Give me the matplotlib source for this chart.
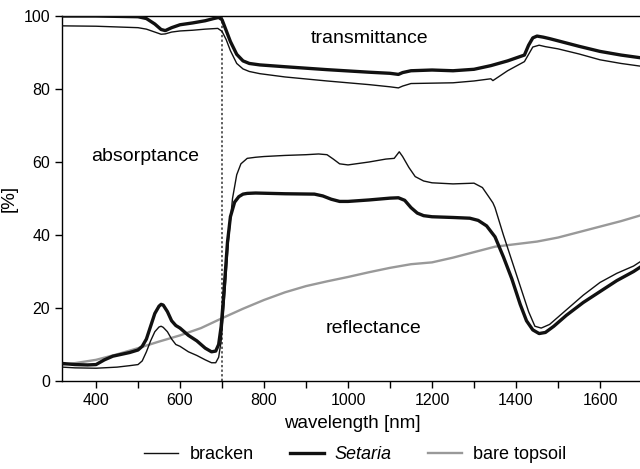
import numpy as np
import matplotlib
matplotlib.use("Agg")
import matplotlib.pyplot as plt

plt.rcParams['font.family'] = ['Liberation Sans', 'DejaVu Sans']

# --- data ---
# reflectance, Setaria (thick)
setaria_r_wl = [320, 350, 380, 400, 420, 440, 460, 480, 500, 510, 520, 530, 540, 550, 555, 560,
                570, 580, 590, 600, 620, 640, 660, 675, 685, 692, 698, 703, 708, 713, 720, 730,
                740, 750, 760, 780, 850, 920, 940, 960, 980, 1000, 1050, 1100, 1120, 1135, 1150,
                1165, 1180, 1200, 1250, 1290, 1310, 1330, 1350, 1370, 1390, 1410, 1425, 1440,
                1455, 1470, 1490, 1520, 1560, 1600, 1640, 1680, 1700]
setaria_r = [4.8, 4.5, 4.4, 4.5, 5.8, 6.8, 7.3, 7.8, 8.5, 9.5, 11.5, 15, 18.5, 20.5, 21, 20.8,
             19, 16.5, 15.2, 14.5, 12.5, 11, 9, 8, 8.2, 10, 15, 22, 30, 38, 45, 49,
             50.5, 51.2, 51.4, 51.5, 51.3, 51.2, 50.7, 49.8, 49.2, 49.2, 49.6, 50.1, 50.2, 49.5, 47.5,
             46, 45.3, 45, 44.8, 44.6, 44, 42.5, 39.5, 34, 28, 21, 16.5, 14,
             13, 13.3, 15, 18, 21.5, 24.5, 27.5, 30, 31.5]

# reflectance, bracken (thin)
bracken_r_wl = [320, 350, 400, 450, 480, 500, 510, 520, 530, 540, 550, 555, 560, 570, 580, 590,
                600, 620, 640, 660, 675, 685, 692, 698, 703, 708, 715, 725, 735, 745, 760, 780,
                800, 850, 900, 930, 950, 965, 980, 1000, 1050, 1090, 1110, 1122, 1130, 1145, 1160,
                1180, 1200, 1250, 1300, 1320, 1335, 1345, 1350, 1370, 1390, 1410, 1430, 1445,
                1460, 1480, 1500, 1530, 1560, 1600, 1640, 1680, 1700]
bracken_r = [3.8, 3.6, 3.5, 3.8, 4.2, 4.5, 5.5, 8, 11, 13.5, 14.8, 15, 14.7, 13.5, 11.5, 10,
             9.5, 8, 7, 5.8, 5, 5, 6.5, 11, 18, 26, 38, 50, 56.5, 59.5, 61, 61.3,
             61.5, 61.8, 62, 62.2, 62, 60.8, 59.5, 59.2, 60, 60.8, 61, 62.8, 61.5, 58.5, 56,
             54.8, 54.3, 54, 54.2, 53, 50.5, 48.8, 47.5, 40, 33, 26, 19, 15,
             14.5, 15.5, 17.5, 20.5, 23.5, 27, 29.5, 31.5, 33]

# transmittance, Setaria (thick)
setaria_t_wl = [320, 400, 500, 520, 540, 555, 565, 580, 600, 630, 660, 680, 692, 700, 710, 720,
                735, 750, 765, 790, 850, 950, 1050, 1100, 1120, 1130, 1150, 1200, 1250, 1300,
                1340, 1380, 1420, 1430, 1440, 1450, 1465, 1480, 1500, 1550, 1600, 1650, 1700]
setaria_t = [100, 100, 99.8, 99.3, 97.8, 96.3, 96, 96.8, 97.6, 98.1, 98.7, 99.3, 99.6, 99, 96, 93,
             89.5, 87.7, 87, 86.6, 86.1, 85.3, 84.6, 84.3, 84, 84.5, 85, 85.2, 85, 85.4,
             86.4, 87.7, 89.3, 92, 94, 94.5, 94.2, 93.8, 93.2, 91.7, 90.3, 89.3, 88.5]

# transmittance, bracken (thin)
bracken_t_wl = [320, 400, 500, 520, 540, 555, 565, 580, 600, 630, 660, 690, 700, 710, 720, 735,
                750, 765, 790, 850, 950, 1050, 1100, 1120, 1130, 1150, 1200, 1250, 1300, 1340,
                1345, 1380, 1420, 1430, 1440, 1455, 1470, 1500, 1550, 1600, 1650, 1700]
bracken_t = [97.3, 97.2, 96.8, 96.4, 95.6, 95, 95.1, 95.6, 95.9, 96.1, 96.4, 96.6, 95.8, 93.5, 90.5, 87,
             85.5, 84.8, 84.2, 83.3, 82.2, 81.2, 80.6, 80.3, 80.8, 81.5, 81.6, 81.7, 82.2, 82.8,
             82.3, 85, 87.5, 89.5, 91.5, 92, 91.6, 91, 89.6, 88, 87, 86.2]

# reflectance, bare topsoil (grey)
soil_wl = [320, 350, 400, 450, 500, 550, 600, 650, 700, 750, 800, 850, 900, 950, 1000, 1050,
           1100, 1150, 1200, 1250, 1300, 1350, 1400, 1450, 1500, 1550, 1600, 1650, 1700]
soil_r = [4.5, 4.9, 5.8, 7.3, 9, 10.8, 12.5, 14.5, 17.2, 19.8, 22.2, 24.3, 26, 27.3, 28.5, 29.8,
          31, 32, 32.5, 33.8, 35.3, 36.8, 37.5, 38.2, 39.3, 40.8, 42.3, 43.8, 45.5]

fig = plt.figure(figsize=(6.4, 4.69), dpi=100)
ax = fig.add_axes([62 / 640, 88 / 469, 580 / 640, 365 / 469])

soil_line, = ax.plot(soil_wl, soil_r, color='#999999', lw=1.7, zorder=2)
ax.plot(bracken_r_wl, bracken_r, color='#111111', lw=1.0, zorder=3)
ax.plot(setaria_r_wl, setaria_r, color='#111111', lw=2.4, zorder=3)
l1, = ax.plot(bracken_t_wl, bracken_t, color='#111111', lw=1.0, zorder=3)
l2, = ax.plot(setaria_t_wl, setaria_t, color='#111111', lw=2.4, zorder=3)
ax.axvline(700, color='#333333', lw=1.1, ls=(0, (1.5, 1.5)), zorder=1)

ax.set_xlim(319, 1700)
ax.set_ylim(0, 100)
ax.set_xticks(range(400, 1700, 200))
ax.set_xticks(range(500, 1800, 100), minor=True)
ax.set_yticks(range(0, 101, 20))
ax.tick_params(axis='both', which='both', direction='out', length=5, width=1, labelsize=11.5)
ax.spines['right'].set_visible(False)
for s in ('left', 'bottom', 'top'):
    ax.spines[s].set_linewidth(1.0)

ax.set_xlabel('wavelength [nm]', fontsize=13.5, labelpad=5)
ax.set_ylabel('[%]', fontsize=13.5, labelpad=4)

ax.text(1052, 93.7, 'transmittance', fontsize=14, ha='center', va='center')
ax.text(517, 61.4, 'absorptance', fontsize=14, ha='center', va='center')
ax.text(1060, 14.5, 'reflectance', fontsize=14, ha='center', va='center')

leg = fig.legend([l1, l2, soil_line], ['bracken', 'Setaria', 'bare topsoil'],
                 loc='center', bbox_to_anchor=(0.555, 0.03), ncol=3, frameon=False,
                 fontsize=13, handlelength=1.9, columnspacing=2.0, handletextpad=0.6)
leg.get_texts()[1].set_fontstyle('italic')

fig.savefig('out.png', dpi=100)
